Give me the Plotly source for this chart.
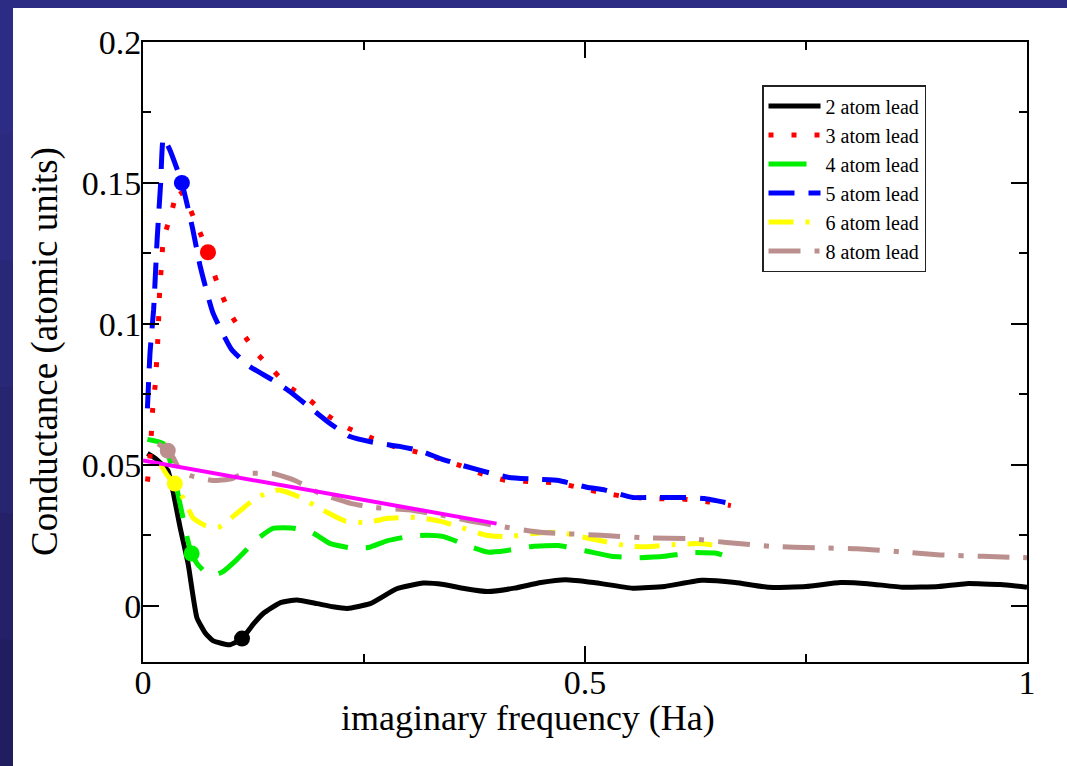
import plotly.graph_objects as go

# ---------------- data ----------------
x2 = [0.005, 0.015, 0.028, 0.033, 0.042, 0.051, 0.061, 0.07, 0.079, 0.098, 0.112, 0.125, 0.136, 0.155,
      0.174, 0.197, 0.215, 0.231, 0.257, 0.287, 0.317, 0.34, 0.365, 0.39, 0.42, 0.45, 0.478, 0.51, 0.554,
      0.59, 0.632, 0.67, 0.708, 0.75, 0.789, 0.82, 0.86, 0.9, 0.931, 0.97, 1.0]
y2 = [0.054, 0.052, 0.048, 0.042, 0.0277, 0.0149, -0.0043, -0.0095, -0.0124, -0.0139, -0.0117, -0.0065, -0.0028, 0.001,
      0.002, 0.0007, -0.0004, -0.001, 0.0007, 0.006, 0.008, 0.0075, 0.006, 0.005, 0.0062, 0.0082, 0.0092, 0.0082, 0.0062,
      0.0068, 0.009, 0.0082, 0.0065, 0.0068, 0.0082, 0.0078, 0.0065, 0.0068, 0.0078, 0.0075, 0.0065]

x3 = [0.005, 0.008, 0.011, 0.014, 0.017, 0.019, 0.021, 0.023, 0.031, 0.04, 0.05, 0.061, 0.0735, 0.078, 0.087,
      0.098, 0.113, 0.129, 0.147, 0.166, 0.189, 0.209, 0.232, 0.257, 0.283, 0.31, 0.336, 0.359, 0.381, 0.41,
      0.44, 0.47, 0.494, 0.52, 0.55, 0.58, 0.61, 0.64, 0.665]
y3 = [0.044, 0.053, 0.07, 0.079, 0.096, 0.113, 0.121, 0.13, 0.138, 0.148, 0.143, 0.135, 0.1254, 0.12, 0.112,
      0.104, 0.0966, 0.0895, 0.0835, 0.0775, 0.0728, 0.0675, 0.063, 0.0597, 0.0565, 0.0545, 0.052, 0.0497, 0.047, 0.0445,
      0.044, 0.0435, 0.0418, 0.04, 0.0385, 0.038, 0.0378, 0.0368, 0.0355]

x4 = [0.005, 0.023, 0.032, 0.042, 0.05, 0.055, 0.061, 0.07, 0.079, 0.09, 0.105, 0.13, 0.147, 0.17, 0.191,
      0.212, 0.235, 0.255, 0.276, 0.3, 0.321, 0.34, 0.37, 0.39, 0.41, 0.44, 0.47, 0.5, 0.53, 0.56, 0.59,
      0.62, 0.65, 0.655]
y4 = [0.059, 0.0575, 0.05, 0.036, 0.024, 0.0185, 0.015, 0.012, 0.0107, 0.012, 0.016, 0.0238, 0.0274, 0.0275, 0.026,
      0.022, 0.0205, 0.0206, 0.023, 0.0245, 0.025, 0.0245, 0.021, 0.019, 0.0195, 0.021, 0.0213, 0.0195, 0.0175, 0.017, 0.0175,
      0.0188, 0.0185, 0.018]

x5 = [0.005, 0.008, 0.012, 0.016, 0.02, 0.023, 0.03, 0.044, 0.056, 0.065, 0.079, 0.1, 0.12, 0.147, 0.166,
      0.19, 0.21, 0.234, 0.26, 0.29, 0.313, 0.338, 0.362, 0.393, 0.414, 0.447, 0.47, 0.502, 0.523, 0.554,
      0.58, 0.611, 0.635, 0.665]
y5 = [0.07, 0.09, 0.105, 0.13, 0.15, 0.166, 0.162, 0.150, 0.134, 0.12, 0.104, 0.091, 0.085, 0.080, 0.076,
      0.070, 0.065, 0.060, 0.058, 0.0565, 0.055, 0.052, 0.0497, 0.047, 0.0455, 0.0448, 0.0444, 0.042, 0.041, 0.0384,
      0.0384, 0.0384, 0.038, 0.0362]

x6 = [0.02, 0.028, 0.036, 0.045, 0.057, 0.07, 0.085, 0.106, 0.124, 0.14, 0.153, 0.178, 0.2, 0.229, 0.253,
      0.277, 0.31, 0.336, 0.357, 0.388, 0.414, 0.438, 0.471, 0.495, 0.518, 0.552, 0.575, 0.601, 0.632, 0.658]
y6 = [0.05, 0.046, 0.0433, 0.0384, 0.031, 0.0285, 0.0277, 0.0327, 0.0373, 0.040, 0.041, 0.0384, 0.0345, 0.030, 0.0295,
      0.031, 0.0313, 0.030, 0.028, 0.025, 0.0245, 0.0255, 0.026, 0.0245, 0.023, 0.021, 0.021, 0.0217, 0.022, 0.021]

x8 = [0.017, 0.028, 0.034, 0.042, 0.055, 0.079, 0.1, 0.113, 0.13, 0.147, 0.172, 0.2, 0.236, 0.262, 0.3,
      0.34, 0.37, 0.4, 0.45, 0.518, 0.57, 0.618, 0.66, 0.713, 0.76, 0.808, 0.86, 0.902, 0.95, 1.0]
y8 = [0.0575, 0.055, 0.0526, 0.048, 0.046, 0.0444, 0.045, 0.0469, 0.047, 0.0469, 0.0444, 0.0398, 0.0362, 0.0348, 0.034,
      0.032, 0.030, 0.0284, 0.026, 0.025, 0.024, 0.0238, 0.0224, 0.021, 0.0205, 0.0202, 0.019, 0.018, 0.0175, 0.017]

fit_x = [0.0, 0.4]
fit_y = [0.0515, 0.0291]

mark_x = [0.044, 0.0735, 0.112, 0.055, 0.036, 0.028]
mark_y = [0.150, 0.1254, -0.0117, 0.0185, 0.0433, 0.055]
mark_c = ["#0000ff", "#ff0000", "#000000", "#00ee00", "#ffff00", "#bc8f8f"]

names = ["2 atom lead", "3 atom lead", "4 atom lead", "5 atom lead", "6 atom lead", "8 atom lead"]

# ---------------- figure ----------------
fig = go.Figure()
series = [
    (x2, y2, "#000000", "solid", 5),
    (x3, y3, "#ff0000", "5px,18px", 5),
    (x4, y4, "#00ee00", "38px,18px", 5),
    (x5, y5, "#0000ff", "26px,14px", 5),
    (x6, y6, "#ffff00", "25px,12px,4px,12px", 5),
    (x8, y8, "#bc8f8f", "32px,14px,5px,14px", 5),
]
for (xs, ys, col, dash, w), nm in zip(series, names):
    fig.add_trace(go.Scatter(x=xs, y=ys, mode="lines", name=nm,
                             line=dict(color=col, width=w, dash=dash, shape="spline", smoothing=0.45)))

fig.add_trace(go.Scatter(x=fit_x, y=fit_y, mode="lines", showlegend=False,
                         line=dict(color="#ff00ff", width=4)))
fig.add_trace(go.Scatter(x=mark_x, y=mark_y, mode="markers", showlegend=False,
                         marker=dict(color=mark_c, size=16, line=dict(width=0))))

L, R, T, B = 143, 1027, 42, 662
W, H = 1067, 766
pw, ph = R - L, B - T


def px(x):
    return (x - L) / pw


def py(y):
    return (B - y) / ph


serif = "Liberation Serif, Times New Roman, serif"
axis_common = dict(showline=True, linewidth=2, linecolor="black", mirror="ticks",
                   ticks="inside", ticklen=16, tickwidth=1.5, tickcolor="black",
                   showgrid=False, zeroline=False,
                   tickfont=dict(family=serif, size=34, color="black"))

fig.update_xaxes(range=[0, 1], tick0=0, dtick=0.5, ticklabelstandoff=-11,
                 minor=dict(dtick=0.25, ticks="inside", ticklen=8, tickwidth=1.5, tickcolor="black", showgrid=False),
                 **axis_common)
fig.update_yaxes(range=[-0.02, 0.2], tick0=0, dtick=0.05, ticklabelstandoff=-7,
                 minor=dict(dtick=0.025, ticks="inside", ticklen=8, tickwidth=1.5, tickcolor="black", showgrid=False),
                 **axis_common)

TOPBAND = 8
shapes = [dict(type="rect", xref="paper", yref="paper", x0=px(13), x1=px(W + 5), y0=py(H + 5), y1=py(TOPBAND),
               fillcolor="white", line=dict(width=0), layer="below")]
# darker gradient on left strip
band_cols = ["#2d2c84", "#2b2a7e", "#292777", "#272570", "#242168", "#211e60"]
nb = len(band_cols)
for i, c in enumerate(band_cols):
    shapes.append(dict(type="rect", xref="paper", yref="paper", x0=px(-2), x1=px(13),
                       y0=py(TOPBAND + (H - TOPBAND) * (i + 1) / nb + 1), y1=py(TOPBAND + (H - TOPBAND) * i / nb),
                       fillcolor=c, line=dict(width=0), layer="below"))

fig.update_layout(
    width=W, height=H, autosize=False,
    margin=dict(l=L, r=W - R, t=T, b=H - B, pad=0),
    paper_bgcolor="#2d2c84", plot_bgcolor="white",
    shapes=shapes,
    showlegend=True,
    legend=dict(x=px(762), y=py(85), xanchor="left", yanchor="top",
                bgcolor="white", bordercolor="#222222", borderwidth=1.5,
                font=dict(family=serif, size=20, color="black"),
                itemwidth=52, tracegroupgap=0),
    annotations=[
        dict(text="Conductance (atomic units)", xref="paper", yref="paper", x=px(45), y=0.5,
             textangle=-90, showarrow=False, xanchor="center", yanchor="middle",
             font=dict(family=serif, size=37, color="black")),
        dict(text="imaginary frequency (Ha)", xref="paper", yref="paper", x=px(528), y=py(718),
             showarrow=False, xanchor="center", yanchor="middle",
             font=dict(family=serif, size=36, color="black")),
    ],
)

fig.write_html("out.html")
